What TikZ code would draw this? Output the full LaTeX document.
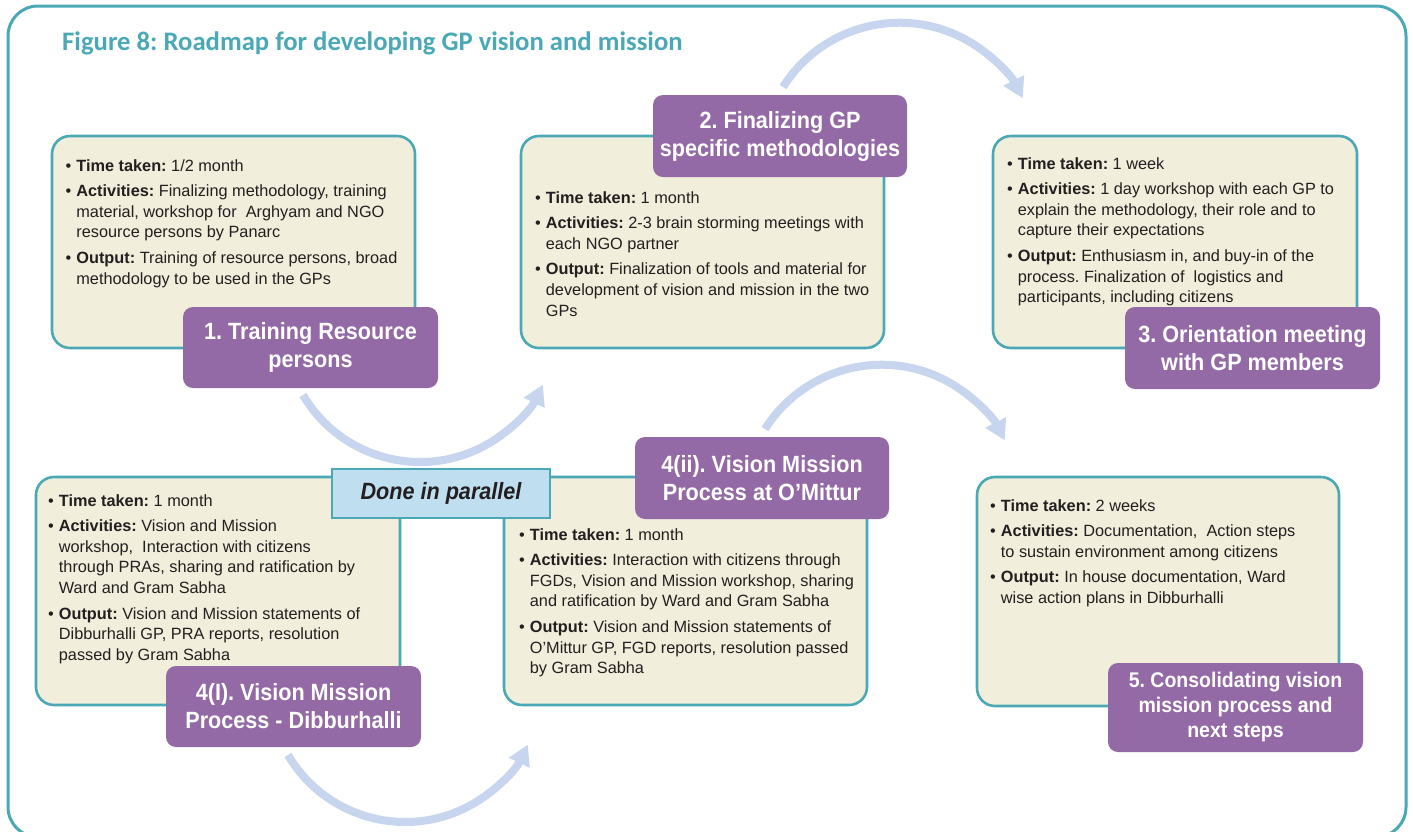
\documentclass[tikz,border=0pt]{standalone}
\usepackage{fontspec}
\setmainfont{Liberation Sans}
\newfontfamily\headfont[FakeStretch=0.92]{Liberation Sans}
\newfontfamily\titlefont{Carlito}
\usetikzlibrary{arrows.meta}
\frenchspacing

\definecolor{frameteal}{HTML}{4BA9B5}
\definecolor{boxcream}{HTML}{F1EEDC}
\definecolor{headpurple}{HTML}{936AA6}
\definecolor{parablue}{HTML}{BFDFF0}
\definecolor{flowblue}{HTML}{C7D5EE}
\definecolor{bodyink}{HTML}{231F20}

\newenvironment{points}{\begin{tabular}[t]{@{}l@{\hspace{5pt}}l@{}}}{\end{tabular}}

\tikzset{
  stepcard/.style={draw=frameteal, line width=2.6pt, fill=boxcream,
    rounded corners=18pt, inner sep=0pt},
  stephead/.style={fill=headpurple, rounded corners=10pt, text=white,
    font=\headfont\bfseries\fontsize{23.5}{28}\selectfont,
    align=center, inner sep=0pt},
  bodytext/.style={anchor=base west, inner sep=0pt, text=bodyink,
    font=\fontsize{16.3}{20.8}\selectfont},
  flow/.style={draw=flowblue, line width=8pt,
    -{Triangle[width=22pt,length=20pt]}},
}

\begin{document}
\begin{tikzpicture}[x=1pt,y=-1pt]
\clip (0,0) rectangle (1413,831);
\fill[white] (0,0) rectangle (1413,831);

% outer frame
\draw[frameteal, line width=3pt, rounded corners=30pt] (8,6) rectangle (1406,837);

% title
\node[anchor=base west, inner sep=0pt, text=frameteal,
  font=\titlefont\bfseries\fontsize{26.7}{31}\selectfont] (title) at (62,50)
  {Figure 8: Roadmap for developing GP vision and mission};

% flow arrows between the steps
\coordinate (f12) at (303,395);
\coordinate (f23) at (783,87);
\coordinate (f45) at (765,429);
\coordinate (f44) at (288,755);
\draw[flow] (f12) arc[start angle=149.5, end angle=25.6, radius=136];
\draw[flow] (f23) arc[start angle=212.3, end angle=333.1, radius=138];
\draw[flow] (f45) arc[start angle=212.3, end angle=333.1, radius=138];
\draw[flow] (f44) arc[start angle=149.5, end angle=25.6, radius=136];

% step cards
\node[stepcard, minimum width=363pt, minimum height=212pt] (b1) at (233.5,242) {};
\node[stepcard, minimum width=363pt, minimum height=212pt] (b2) at (702.5,242) {};
\node[stepcard, minimum width=364pt, minimum height=212pt] (b3) at (1175,242) {};
\node[stepcard, minimum width=364pt, minimum height=228pt] (b4a) at (218,591) {};
\node[stepcard, minimum width=363pt, minimum height=228pt] (b4b) at (685.5,591) {};
\node[stepcard, minimum width=362pt, minimum height=229pt] (b5) at (1158,591.5) {};

% card texts
\node[bodytext] (t1) at (65.5,171) {\begin{points}
\textbullet & \textbf{Time taken:} 1/2 month\\[4.5pt]
\textbullet & \textbf{Activities:} Finalizing methodology, training\\
 & material, workshop for\ \ Arghyam and NGO\\
 & resource persons by Panarc\\[4.5pt]
\textbullet & \textbf{Output:} Training of resource persons, broad\\
 & methodology to be used in the GPs
\end{points}};

\node[bodytext] (t2) at (535,203) {\begin{points}
\textbullet & \textbf{Time taken:} 1 month\\[4.5pt]
\textbullet & \textbf{Activities:} 2-3 brain storming meetings with\\
 & each NGO partner\\[4.5pt]
\textbullet & \textbf{Output:} Finalization of tools and material for\\
 & development of vision and mission in the two\\
 & GPs
\end{points}};

\node[bodytext] (t3) at (1007,169) {\begin{points}
\textbullet & \textbf{Time taken:} 1 week\\[4.5pt]
\textbullet & \textbf{Activities:} 1 day workshop with each GP to\\
 & explain the methodology, their role and to\\
 & capture their expectations\\[4.5pt]
\textbullet & \textbf{Output:} Enthusiasm in, and buy-in of the\\
 & process. Finalization of\ \ logistics and\\
 & participants, including citizens
\end{points}};

\node[bodytext] (t4a) at (48,506) {\begin{points}
\textbullet & \textbf{Time taken:} 1 month\\[4.5pt]
\textbullet & \textbf{Activities:} Vision and Mission\\
 & workshop,\ \ Interaction with citizens\\
 & through PRAs, sharing and ratification by\\
 & Ward and Gram Sabha\\[4.5pt]
\textbullet & \textbf{Output:} Vision and Mission statements of\\
 & Dibburhalli GP, PRA reports, resolution\\
 & passed by Gram Sabha
\end{points}};

\node[bodytext] (t4b) at (519,540) {\begin{points}
\textbullet & \textbf{Time taken:} 1 month\\[4.5pt]
\textbullet & \textbf{Activities:} Interaction with citizens through\\
 & FGDs, Vision and Mission workshop, sharing\\
 & and ratification by Ward and Gram Sabha\\[4.5pt]
\textbullet & \textbf{Output:} Vision and Mission statements of\\
 & O’Mittur GP, FGD reports, resolution passed\\
 & by Gram Sabha
\end{points}};

\node[bodytext] (t5) at (990,511) {\begin{points}
\textbullet & \textbf{Time taken:} 2 weeks\\[4.5pt]
\textbullet & \textbf{Activities:} Documentation,\ \ Action steps\\
 & to sustain environment among citizens\\[4.5pt]
\textbullet & \textbf{Output:} In house documentation, Ward\\
 & wise action plans in Dibburhalli
\end{points}};

% step headings
\node[stephead, minimum width=255pt, minimum height=81pt] (h1) at (310.5,347.5)
  {1. Training Resource\\persons};
\node[stephead, minimum width=254pt, minimum height=82pt] (h2) at (780,136)
  {2. Finalizing GP\\specific methodologies};
\node[stephead, minimum width=255pt, minimum height=82pt] (h3) at (1252.5,348)
  {3. Orientation meeting\\with GP members};
\node[stephead, minimum width=255pt, minimum height=81pt] (h4a) at (293.5,706.5)
  {4(I). Vision Mission\\Process - Dibburhalli};
\node[stephead, minimum width=254pt, minimum height=82pt] (h4b) at (762,478)
  {4(ii). Vision Mission\\Process at O’Mittur};
\node[stephead, minimum width=255pt, minimum height=89pt,
  font=\headfont\bfseries\fontsize{21.2}{25}\selectfont] (h5) at (1235.5,707.5)
  {5. Consolidating vision\\mission process and\\next steps};

% parallel marker
\node[draw=frameteal, line width=2.6pt, fill=parablue, minimum width=218pt,
  minimum height=49pt, inner sep=0pt, text=bodyink,
  font=\headfont\bfseries\itshape\fontsize{23.5}{28}\selectfont] (par) at (441,493.5)
  {Done in parallel};
\end{tikzpicture}
\end{document}
